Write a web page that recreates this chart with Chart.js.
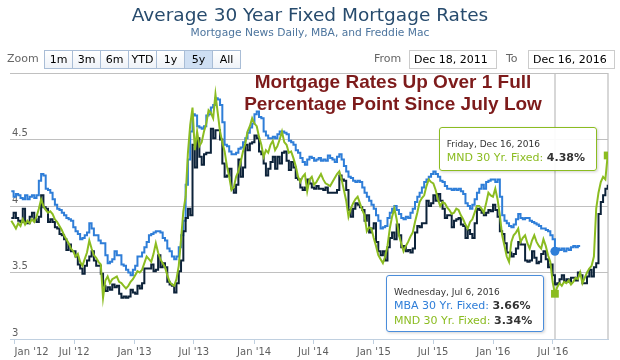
<!DOCTYPE html>
<html>
<head>
<meta charset="utf-8">
<script src="https://cdn.jsdelivr.net/npm/chart.js@4.4.1/dist/chart.umd.min.js"></script>
<style>
body { margin: 0; background: #fff; font-family: "DejaVu Sans", Verdana, sans-serif; }
#wrap { position: relative; width: 620px; height: 360px; overflow: hidden; }
#chart { position: absolute; left: 0; top: 0; }
.title { position: absolute; left: 0; top: 4px; width: 620px; text-align: center; font-size: 18.5px; color: #274b6d; }
.subtitle { position: absolute; left: 0; top: 26px; width: 620px; text-align: center; font-size: 10.7px; color: #4d759e; }
.lbl { position: absolute; top: 51px; font-size: 11px; color: #666; line-height: 16px; }
.btns { position: absolute; left: 44px; top: 50px; height: 17px; border: 1px solid #a9bdd6; display: flex; }
.btns span { width: 27px; height: 17px; border-right: 1px solid #a9bdd6; text-align: center; font-size: 11px; line-height: 17px; color: #000; background: linear-gradient(#fff, #eef2f8); }
.btns span:last-child { border-right: none; }
.btns span.on { background: #cfdff3; }
.date { position: absolute; top: 50px; height: 17px; border: 1px solid #ccc; font-size: 11px; line-height: 17px; padding-left: 4px; color: #000; }
.note { position: absolute; left: 232px; top: 71px; width: 322px; text-align: center; font-family: "Liberation Sans", Arial, sans-serif; font-weight: bold; font-size: 19px; line-height: 22px; color: #7d1b1b; }
.tip { position: absolute; box-sizing: border-box; width: 158px; border-radius: 3px; background: rgba(255,255,255,0.92); box-shadow: 1px 1px 3px rgba(0,0,0,0.18); }
.tip div { position: absolute; left: 7px; white-space: nowrap; }
.tip .d { font-size: 9px; line-height: 12px; color: #333; }
.tip .v { font-size: 11px; line-height: 14px; }
.tip b { color: #333; }
</style>
</head>
<body>
<div id="wrap">
  <canvas id="chart" width="620" height="360"></canvas>
  <div class="title">Average 30 Year Fixed Mortgage Rates</div>
  <div class="subtitle">Mortgage News Daily, MBA, and Freddie Mac</div>
  <div class="lbl" style="left:7px">Zoom</div>
  <div class="btns"><span>1m</span><span>3m</span><span>6m</span><span>YTD</span><span>1y</span><span class="on">5y</span><span>All</span></div>
  <div class="lbl" style="left:374px">From</div>
  <div class="date" style="left:409px;width:82px">Dec 18, 2011</div>
  <div class="lbl" style="left:506px">To</div>
  <div class="date" style="left:528px;width:81px">Dec 16, 2016</div>
  <div class="note">Mortgage Rates Up Over 1 Full<br>Percentage Point Since July Low</div>
  <div class="tip" id="tipDec" style="height:44px;border:1px solid #8bbc21">
    <div class="d" style="top:10px">Friday, Dec 16, 2016</div>
    <div class="v" style="top:23px"><span style="color:#8bbc21">MND 30 Yr. Fixed: </span><b>4.38%</b></div>
  </div>
  <div class="tip" id="tipJul" style="height:57px;border:1px solid #4a8ddb">
    <div class="d" style="top:10px">Wednesday, Jul 6, 2016</div>
    <div class="v" style="top:23px"><span style="color:#2f7ed8">MBA 30 Yr. Fixed: </span><b>3.66%</b></div>
    <div class="v" style="top:38px"><span style="color:#8bbc21">MND 30 Yr. Fixed: </span><b>3.34%</b></div>
  </div>
</div>
<script>
// weekly readings, first week = Dec 22 2011
var firstWeekDate = '2011-12-22';

var freddie = [
  3.91, 3.95,
  // 2012
  3.91, 3.89, 3.88, 3.98, 3.87, 3.87, 3.92, 3.95, 3.90, 3.88, 3.92, 4.08, 3.99,
  3.98, 3.88, 3.90, 3.88, 3.84, 3.83, 3.79, 3.78, 3.75, 3.67, 3.71, 3.66, 3.66,
  3.62, 3.56, 3.53, 3.49, 3.55, 3.59, 3.62, 3.66, 3.59, 3.55, 3.55, 3.49, 3.40,
  3.36, 3.39, 3.37, 3.41, 3.39, 3.40, 3.34, 3.31, 3.32, 3.31, 3.32, 3.37, 3.35,
  // 2013
  3.34, 3.40, 3.38, 3.42, 3.53, 3.53, 3.53, 3.56, 3.51, 3.52, 3.63, 3.54, 3.57,
  3.54, 3.43, 3.41, 3.40, 3.35, 3.42, 3.51, 3.59, 3.81, 3.91, 3.98, 3.93, 4.46,
  4.29, 4.51, 4.37, 4.31, 4.39, 4.40, 4.40, 4.58, 4.51, 4.57, 4.57, 4.50, 4.32,
  4.22, 4.23, 4.28, 4.13, 4.10, 4.16, 4.35, 4.22, 4.29, 4.46, 4.42, 4.47, 4.48,
  // 2014
  4.53, 4.51, 4.41, 4.39, 4.32, 4.23, 4.28, 4.33, 4.37, 4.28, 4.37, 4.32, 4.40,
  4.41, 4.34, 4.27, 4.33, 4.29, 4.21, 4.20, 4.14, 4.12, 4.14, 4.20, 4.17, 4.14,
  4.13, 4.15, 4.13, 4.13, 4.12, 4.14, 4.10, 4.10, 4.10, 4.10, 4.12, 4.23, 4.20,
  4.19, 4.12, 3.97, 3.92, 3.98, 4.02, 4.01, 3.99, 3.97, 3.89, 3.93, 3.80, 3.83,
  // 2015
  3.87, 3.73, 3.66, 3.63, 3.66, 3.59, 3.69, 3.76, 3.80, 3.75, 3.86, 3.78, 3.69,
  3.70, 3.66, 3.67, 3.65, 3.68, 3.80, 3.85, 3.84, 3.87, 3.87, 4.04, 4.00, 4.02,
  4.08, 4.04, 4.09, 4.04, 3.98, 3.91, 3.93, 3.93, 3.84, 3.89, 3.90, 3.91, 3.86,
  3.85, 3.76, 3.82, 3.79, 3.76, 3.87, 3.98, 3.97, 3.95, 3.93, 3.95, 3.97, 3.96, 4.01,
  // 2016
  3.97, 3.92, 3.81, 3.79, 3.72, 3.65, 3.65, 3.62, 3.64, 3.68, 3.73, 3.71, 3.71,
  3.59, 3.58, 3.59, 3.66, 3.61, 3.57, 3.58, 3.64, 3.66, 3.60, 3.54, 3.56, 3.48,
  3.41, 3.42, 3.45, 3.48, 3.43, 3.45, 3.43, 3.46, 3.46, 3.44, 3.50, 3.48, 3.42,
  3.42, 3.47, 3.52, 3.47, 3.54, 3.57, 3.94, 4.03, 4.08, 4.13, 4.16
];

var mba = [
  4.11, 4.07, 4.09, 4.08, 4.06, 4.05, 4.08, 4.05, 4.07, 4.08,
  4.06, 4.08, 4.19, 4.24, 4.23, 4.13, 4.12, 4.10, 4.05, 4.01,
  3.98, 3.97, 3.95, 3.93, 3.91, 3.90, 3.89, 3.84, 3.81, 3.79,
  3.75, 3.76, 3.78, 3.80, 3.87, 3.83, 3.78, 3.78, 3.74, 3.72,
  3.72, 3.63, 3.57, 3.58, 3.60, 3.66, 3.63, 3.63, 3.56, 3.55,
  3.52, 3.50, 3.48, 3.52, 3.55, 3.62, 3.62, 3.65, 3.69, 3.73,
  3.78, 3.79, 3.80, 3.81, 3.81, 3.80, 3.76, 3.74, 3.68, 3.66,
  3.62, 3.60, 3.62, 3.69, 3.78, 3.89, 4.16, 4.35, 4.56, 4.69,
  4.68, 4.60, 4.59, 4.58, 4.60, 4.68, 4.69, 4.74, 4.76, 4.81,
  4.80, 4.76, 4.63, 4.46, 4.45, 4.41, 4.39, 4.39, 4.40, 4.43,
  4.44, 4.48, 4.51, 4.55, 4.59, 4.62, 4.69, 4.71, 4.67, 4.66,
  4.56, 4.53, 4.51, 4.51, 4.52, 4.51, 4.54, 4.56, 4.56, 4.55,
  4.54, 4.49, 4.48, 4.46, 4.42, 4.40, 4.36, 4.33, 4.31, 4.35,
  4.37, 4.36, 4.34, 4.35, 4.36, 4.34, 4.35, 4.34, 4.38, 4.36,
  4.35, 4.33, 4.37, 4.39, 4.35, 4.30, 4.26, 4.22, 4.21, 4.19,
  4.18, 4.19, 4.18, 4.14, 4.10, 4.07, 4.04, 4.01, 3.98, 3.93,
  3.89, 3.83, 3.84, 3.85, 3.91, 3.95, 3.98, 4.00, 3.97, 3.94,
  3.91, 3.90, 3.92, 3.91, 3.95, 3.98, 4.03, 4.07, 4.10, 4.14,
  4.18, 4.20, 4.22, 4.24, 4.26, 4.24, 4.22, 4.19, 4.18, 4.15,
  4.13, 4.13, 4.12, 4.13, 4.12, 4.13, 4.11, 4.09, 4.02, 4.00,
  3.98, 4.01, 4.05, 4.10, 4.13, 4.16, 4.13, 4.18, 4.19, 4.20,
  4.20, 4.18, 4.20, 4.07, 3.93, 3.89, 3.87, 3.85, 3.84, 3.86,
  3.90, 3.94, 3.91, 3.90, 3.91, 3.91, 3.89, 3.88, 3.87, 3.86,
  3.85, 3.83, 3.83, 3.82, 3.81, 3.78, 3.75, 3.66, 3.68, 3.67,
  3.68, 3.66, 3.68, 3.67, 3.69, 3.70, 3.69, 3.70, 3.70
];

var mnd = [
  3.89, 3.86, 3.83, 3.87, 3.85, 3.90, 3.86, 3.89, 3.87, 3.90,
  3.88, 3.92, 3.98, 4.05, 4.00, 3.97, 3.95, 3.96, 3.94, 3.90,
  3.88, 3.85, 3.82, 3.78, 3.75, 3.72, 3.68, 3.66, 3.62, 3.64,
  3.58, 3.55, 3.60, 3.65, 3.74, 3.68, 3.63, 3.61, 3.58, 3.56,
  3.31, 3.44, 3.47, 3.42, 3.45, 3.46, 3.47, 3.43, 3.42, 3.40,
  3.38, 3.40, 3.43, 3.45, 3.48, 3.51, 3.50, 3.52, 3.57, 3.62,
  3.60, 3.58, 3.64, 3.72, 3.65, 3.60, 3.57, 3.54, 3.48, 3.43,
  3.41, 3.40, 3.45, 3.55, 3.75, 3.96, 4.07, 4.40, 4.61, 4.74,
  4.42, 4.56, 4.45, 4.48, 4.56, 4.62, 4.72, 4.70, 4.66, 4.84,
  4.70, 4.56, 4.48, 4.41, 4.30, 4.22, 4.12, 4.14, 4.22, 4.26,
  4.33, 4.41, 4.47, 4.56, 4.60, 4.66, 4.62, 4.60, 4.52, 4.46,
  4.37, 4.42, 4.40, 4.46, 4.49, 4.42, 4.45, 4.50, 4.56, 4.48,
  4.46, 4.40, 4.41, 4.36, 4.30, 4.22, 4.18, 4.22, 4.24, 4.11,
  4.20, 4.22, 4.16, 4.18, 4.21, 4.24, 4.20, 4.17, 4.16, 4.15,
  4.18, 4.21, 4.24, 4.26, 4.20, 4.12, 4.04, 3.92, 3.98, 4.02,
  4.05, 4.07, 4.02, 3.97, 3.93, 3.81, 3.84, 3.83, 3.76, 3.70,
  3.63, 3.60, 3.57, 3.62, 3.70, 3.83, 3.92, 3.98, 3.90, 3.78,
  3.72, 3.66, 3.70, 3.73, 3.77, 3.80, 3.88, 3.95, 4.03, 4.06,
  4.08, 4.15, 4.20, 4.18, 4.17, 4.12, 4.05, 4.00, 4.03, 4.02,
  3.99, 3.97, 3.94, 3.95, 3.98, 3.97, 3.93, 3.90, 3.86, 3.83,
  3.88, 3.90, 3.95, 4.00, 4.00, 3.98, 3.95, 4.02, 4.10, 4.08,
  4.07, 4.13, 4.05, 3.93, 3.78, 3.70, 3.62, 3.58, 3.73, 3.78,
  3.80, 3.83, 3.73, 3.76, 3.78, 3.72, 3.68, 3.74, 3.78, 3.73,
  3.70, 3.68, 3.75, 3.70, 3.63, 3.58, 3.43, 3.34, 3.39, 3.42,
  3.40, 3.43, 3.42, 3.44, 3.41, 3.43, 3.46, 3.45, 3.50, 3.42,
  3.46, 3.50, 3.53, 3.55, 3.62, 3.98, 4.10, 4.18, 4.22, 4.20,
  4.38
];

var tickDates = ['2012-01-01', '2012-07-01', '2013-01-01', '2013-07-01', '2014-01-01',
                 '2014-07-01', '2015-01-01', '2015-07-01', '2016-01-01', '2016-07-01'];
var tickLabels = ["Jan '12", "Jul '12", "Jan '13", "Jul '13", "Jan '14",
                  "Jul '14", "Jan '15", "Jul '15", "Jan '16", "Jul '16"];
var rangeFrom = '2011-12-18', rangeTo = '2016-12-16';

// weeks that carry the hover markers (Jul 6 and Dec 16 2016)
var julWeek = 237, decWeek = 260;

var base = Date.UTC(2012, 0, 1);
function dayOf(s) { return (Date.parse(s) - base) / 86400000; }
var week0 = dayOf(firstWeekDate);
function pts(arr) { return arr.map(function (v, i) { return { x: week0 + 7 * i, y: v }; }); }
var tickDays = tickDates.map(dayOf);
var xMax = dayOf(rangeTo);

var guides = {
  id: 'guides',
  beforeDatasetsDraw: function (chart) {
    var c = chart.ctx, a = chart.chartArea, xs = chart.scales.x;
    c.save();
    c.strokeStyle = 'rgba(192,192,192,0.85)';
    c.lineWidth = 1.5;
    [julWeek, decWeek].forEach(function (w) {
      var x = Math.round(xs.getPixelForValue(week0 + 7 * w));
      c.beginPath(); c.moveTo(x, a.top); c.lineTo(x, a.bottom); c.stroke();
    });
    c.restore();
  },
  afterDraw: function (chart) {
    var xs = chart.scales.x, ys = chart.scales.y;
    var dx = xs.getPixelForValue(week0 + 7 * decWeek), dy = ys.getPixelForValue(mnd[decWeek]);
    var t1 = document.getElementById('tipDec');
    t1.style.left = (dx - 169) + 'px'; t1.style.top = (dy - 28) + 'px';
    var jx = xs.getPixelForValue(week0 + 7 * julWeek), jy = ys.getPixelForValue(mba[julWeek]);
    var t2 = document.getElementById('tipJul');
    t2.style.left = (jx - 169) + 'px'; t2.style.top = (jy + 24) + 'px';
  }
};

new Chart(document.getElementById('chart'), {
  type: 'line',
  data: {
    datasets: [{
      label: 'MND 30 Yr. Fixed',
      data: pts(mnd),
      borderColor: '#8bbc21',
      backgroundColor: '#8bbc21',
      pointStyle: 'rect',
      pointRadius: function (ctx) { return (ctx.dataIndex === julWeek || ctx.dataIndex === decWeek) ? 5.5 : 0; },
      order: 1
    }, {
      label: 'Freddie Mac 30 Yr. Fixed',
      data: pts(freddie),
      borderColor: '#0d233a',
      stepped: true,
      pointRadius: 0,
      order: 2
    }, {
      label: 'MBA 30 Yr. Fixed',
      data: pts(mba),
      borderColor: '#2f7ed8',
      backgroundColor: '#2f7ed8',
      stepped: true,
      pointRadius: function (ctx) { return ctx.dataIndex === julWeek ? 4.5 : 0; },
      order: 3
    }]
  },
  options: {
    responsive: false,
    animation: false,
    events: [],
    layout: { padding: { left: 6, right: 12, top: 73, bottom: 0 } },
    elements: { line: { borderWidth: 2, tension: 0 }, point: { borderWidth: 0, hoverRadius: 0 } },
    plugins: { legend: { display: false }, tooltip: { enabled: false } },
    scales: {
      x: {
        type: 'linear',
        min: dayOf(rangeFrom),
        max: xMax,
        afterBuildTicks: function (axis) {
          axis.ticks = tickDays.concat([xMax]).map(function (v) { return { value: v }; });
        },
        grid: {
          drawOnChartArea: false,
          tickLength: 5,
          tickColor: function (ctx) { return ctx.index === tickDays.length ? 'rgba(0,0,0,0)' : '#c0d0e0'; }
        },
        border: { color: '#c0d0e0' },
        ticks: {
          align: 'inner',
          maxRotation: 0,
          autoSkip: false,
          padding: 2,
          color: '#606060',
          font: { family: 'DejaVu Sans', size: 10 },
          callback: function (v) {
            var k = tickDays.indexOf(v);
            return k < 0 ? '' : tickLabels[k];
          }
        }
      },
      y: {
        min: 3,
        max: 5,
        grid: { color: '#c0c0c0', drawTicks: false },
        border: { display: false },
        ticks: {
          stepSize: 0.5,
          mirror: true,
          padding: 2,
          labelOffset: -6,
          color: '#606060',
          font: { family: 'DejaVu Sans', size: 10 },
          callback: function (v) { return v === 5 ? '' : String(v); }
        }
      }
    }
  },
  plugins: [guides]
});
</script>
</body>
</html>
